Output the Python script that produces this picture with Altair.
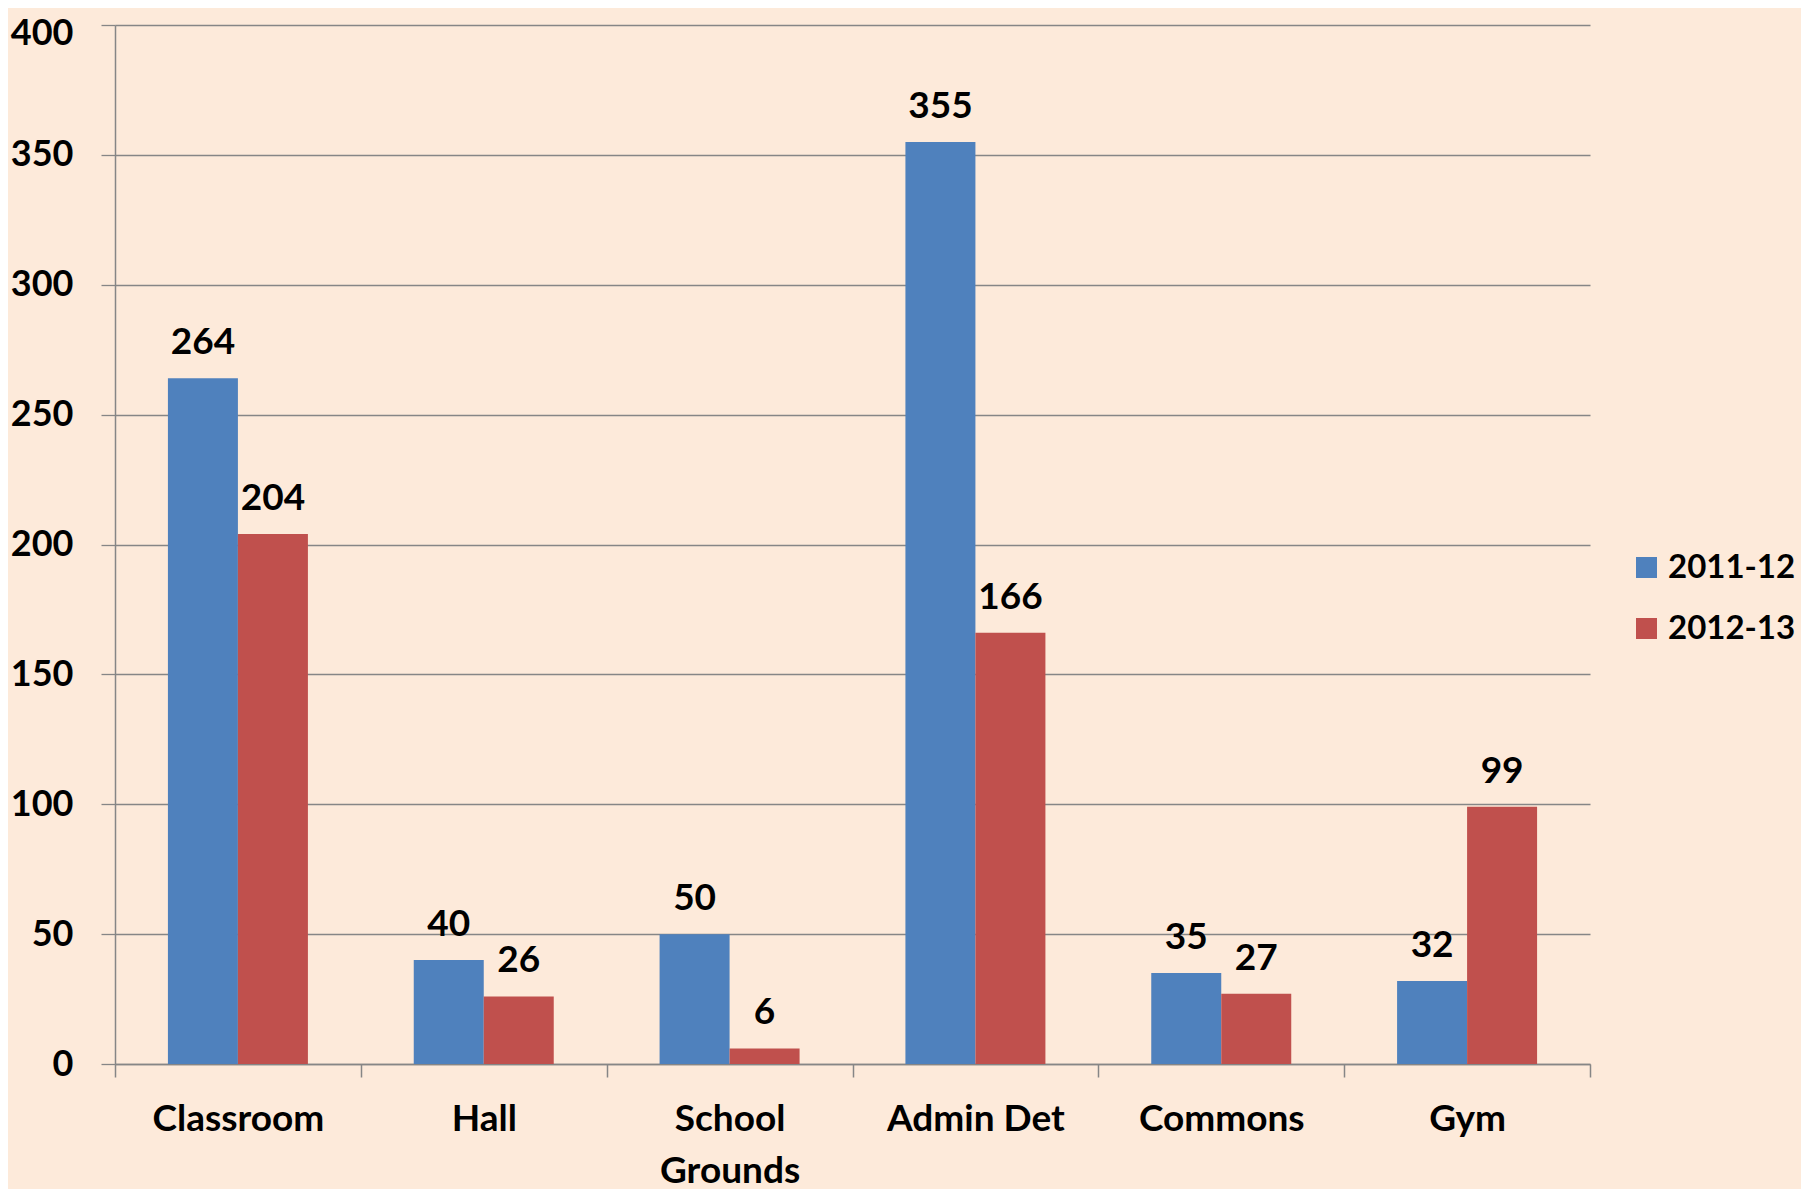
import altair as alt
import pandas as pd

categories = ["Classroom", "Hall", "School Grounds", "Admin Det", "Commons", "Gym"]
series_names = ["2011-12", "2012-13"]
values_2011 = [264, 40, 50, 355, 35, 32]
values_2012 = [204, 26, 6, 166, 27, 99]
colors = ["#4F81BD", "#C0504D"]
y_ticks = [0, 50, 100, 150, 200, 250, 300, 350, 400]

rows = []
for c, v in zip(categories, values_2011):
    rows.append({"category": c, "series": series_names[0], "value": v})
for c, v in zip(categories, values_2012):
    rows.append({"category": c, "series": series_names[1], "value": v})
df = pd.DataFrame(rows)

FONT = "Lato"
BG = "#FDEADA"
GRID = "#868686"

x_enc = alt.X(
    "category:N",
    sort=categories,
    scale=alt.Scale(paddingInner=0, paddingOuter=0),
    axis=alt.Axis(
        title=None,
        labelAngle=0,
        tickBand="extent",
        tickSize=13,
        tickColor=GRID,
        tickWidth=1.5,
        domainColor=GRID,
        domainWidth=1.5,
        labelPadding=24,
        labelFont=FONT,
        labelFontSize=37,
        labelFontWeight="bold",
        labelColor="#000000",
        labelLineHeight=52,
        labelExpr="datum.label == 'School Grounds' ? ['School', 'Grounds'] : datum.label",
    ),
)

y_enc = alt.Y(
    "value:Q",
    scale=alt.Scale(domain=[0, 400], nice=False),
    axis=alt.Axis(
        title=None,
        values=y_ticks,
        grid=True,
        gridColor=GRID,
        gridWidth=1.3,
        tickSize=14,
        tickColor=GRID,
        tickWidth=1.3,
        domainColor=GRID,
        domainWidth=1.5,
        labelPadding=28,
        labelOffset={"condition": {"test": "datum.value == 400", "value": 8}, "value": 0},
        labelFont=FONT,
        labelFontSize=36,
        labelFontWeight="bold",
        labelColor="#000000",
    ),
)

xoff = alt.XOffset(
    "series:N",
    sort=series_names,
    scale=alt.Scale(paddingInner=0, paddingOuter=0.756),
)

bars = alt.Chart(df).mark_bar().encode(
    x=x_enc,
    y=y_enc,
    xOffset=xoff,
    color=alt.Color(
        "series:N",
        sort=series_names,
        scale=alt.Scale(domain=series_names, range=colors),
        legend=alt.Legend(
            title=None,
            orient="none",
            legendX=1515,
            legendY=526,
            symbolType="square",
            symbolSize=441,
            symbolStrokeWidth=0,
            labelFont=FONT,
            labelFontSize=33,
            labelFontWeight="bold",
            labelColor="#000000",
            labelOffset=5,
            rowPadding=27,
            padding=0,
        ),
    ),
)

labels = alt.Chart(df).mark_text(
    font=FONT,
    fontSize=37,
    fontWeight="bold",
    color="#000000",
    baseline="alphabetic",
    align="center",
    dy=-24,
).encode(
    x=alt.X("category:N", sort=categories),
    y=alt.Y("value:Q"),
    xOffset=xoff,
    text=alt.Text("value:Q"),
)

chart = (
    alt.layer(bars, labels)
    .properties(
        width=1475,
        height=1039,
        background=BG,
        autosize=alt.AutoSizeParams(type="none"),
        padding={"left": 107, "top": 17, "right": 211, "bottom": 125},
    )
    .configure_view(stroke=None)
)

chart.save("out.html", embed_options={"renderer": "svg", "actions": False})
